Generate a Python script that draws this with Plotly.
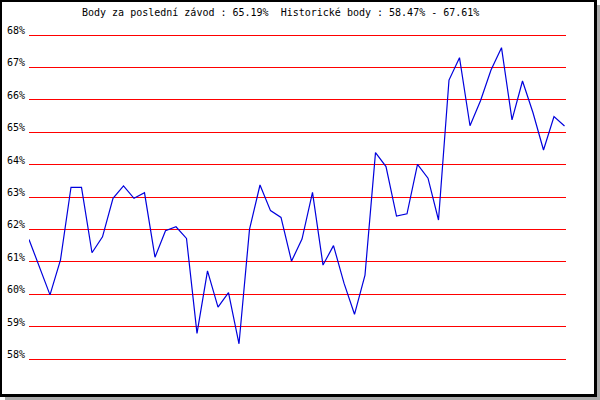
import plotly.graph_objects as go

# score per race (%)
race_no = list(range(52))
score = [
    61.69, 60.85, 59.98, 61.06, 63.30, 63.30, 61.28, 61.77, 62.96, 63.34,
    62.96, 63.13, 61.14, 61.96, 62.08, 61.72, 58.79, 60.72, 59.60, 60.05,
    58.47, 62.00, 63.37, 62.58, 62.37, 61.02, 61.70, 63.14, 60.90, 61.50,
    60.34, 59.38, 60.59, 64.37, 63.94, 62.41, 62.48, 64.01, 63.58, 62.29,
    66.61, 67.30, 65.20, 65.97, 66.92, 67.61, 65.38, 66.58, 65.60, 64.45,
    65.48, 65.19,
]
y_ticks = [58, 59, 60, 61, 62, 63, 64, 65, 66, 67, 68]

last_score = 65.19
hist_min = 58.47
hist_max = 67.61

W, H = 600, 400
left, right, top, bottom = 29, 566, 32, 362

FONT = "DejaVu Sans Mono"


def px_x(x):
    return (x - left) / (right - left)


def px_y(y):
    return (bottom - y) / (bottom - top)


fig = go.Figure(
    go.Scatter(
        x=race_no,
        y=score,
        mode="lines",
        line=dict(color="#0000dd", width=1.2),
        hoverinfo="skip",
        showlegend=False
    )
)

# frame with drop shadow
frame = [
    ((5, 5, 600, 400), "#aaaaaa"),
    ((0, 0, 597, 397), "black"),
    ((2, 2, 594, 394), "white"),
]
for (x0, y0, x1, y1), col in frame:
    fig.add_shape(
        type="rect", xref="paper", yref="paper",
        x0=px_x(x0), x1=px_x(x1), y0=px_y(y0), y1=px_y(y1),
        fillcolor=col, line_width=0, layer="below"
    )

# tick labels sit just above their grid line
for t in y_ticks:
    fig.add_annotation(
        x=0, xref="paper", y=t, yref="y",
        text=f"{t}%", showarrow=False,
        xanchor="right", yanchor="bottom", xshift=-2, yshift=-3,
        font=dict(family=FONT, size=10, color="black")
    )

fig.add_annotation(
    x=px_x(280), xref="paper", y=px_y(13), yref="paper",
    text=f"Body za poslední závod : {last_score:.2f}%  "
         f"Historické body : {hist_min:.2f}% - {hist_max:.2f}%",
    showarrow=False, xanchor="center", yanchor="middle",
    font=dict(family=FONT, size=10, color="black")
)

y_span = 32.4
fig.update_layout(
    width=W, height=H,
    margin=dict(l=left, r=W - right, t=top, b=H - bottom, pad=0),
    paper_bgcolor="white",
    plot_bgcolor="rgba(0,0,0,0)",
    xaxis=dict(
        range=[0, (right - left) / 10.5],
        showgrid=False, zeroline=False, showticklabels=False,
        showline=False, ticks=""
    ),
    yaxis=dict(
        range=[58 - (bottom - 359) / y_span, 68 + (35 - top) / y_span],
        tickvals=y_ticks, showticklabels=False,
        showgrid=True, gridcolor="#ff0000", gridwidth=1,
        zeroline=False, showline=False, ticks=""
    ),
    showlegend=False
)

# page body has a default 8px margin; drop it so the frame fills the window
fig.write_html(
    "out.html",
    config={"displayModeBar": False, "staticPlot": True},
    post_script="document.body.style.margin='0';document.body.style.overflow='hidden';"
)
